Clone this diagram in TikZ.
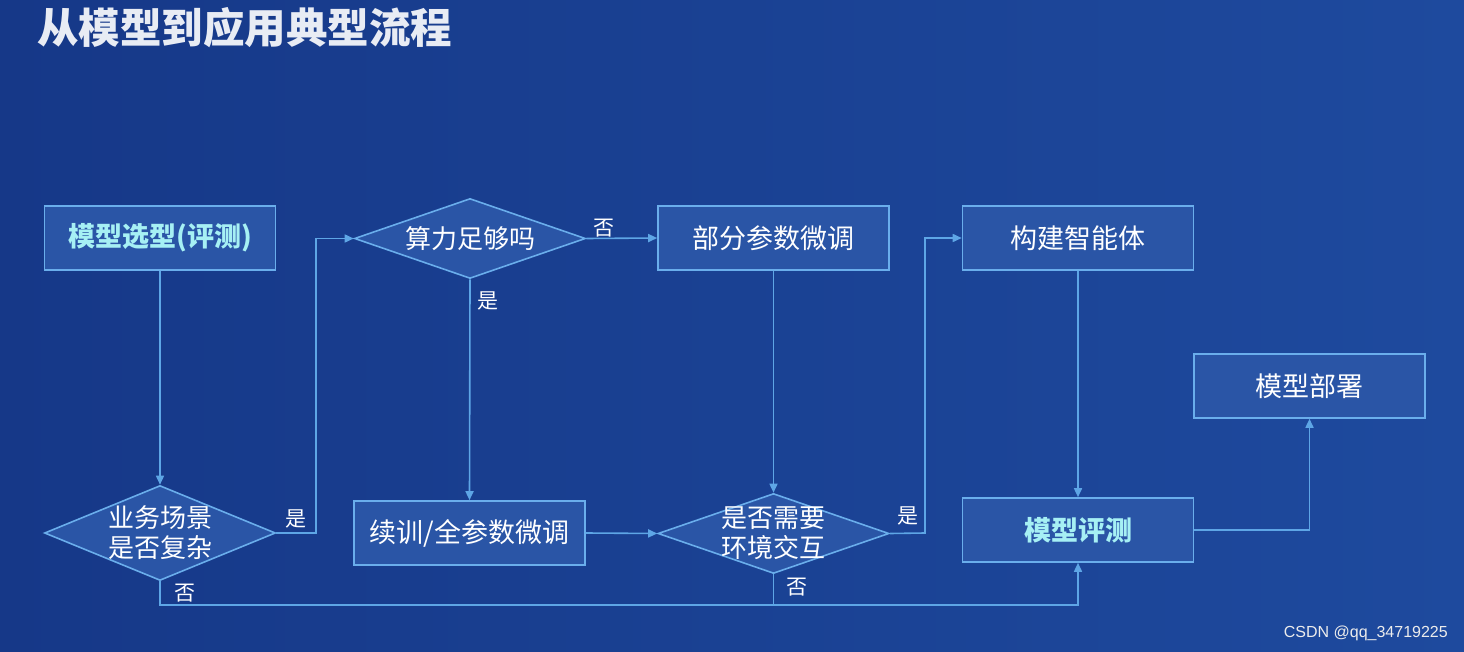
\documentclass[tikz,border=0pt]{standalone}
\usepackage{fontspec}
\setmainfont{Liberation Sans}
\newfontfamily\cjk{Noto Sans CJK SC}
\usetikzlibrary{shapes.geometric,arrows.meta}
\definecolor{bgL}{HTML}{163888}
\definecolor{bgR}{HTML}{1E4A9E}
\definecolor{boxfill}{HTML}{2A55A6}
\definecolor{boxline}{HTML}{6AAEEC}
\definecolor{conn}{HTML}{5EA6E6}
\definecolor{cyantext}{HTML}{A6F0F4}
\definecolor{titlecol}{HTML}{E8ECF4}
\tikzset{
  x=1pt, y=-1pt,
  procbox/.style={draw=boxline, line width=1.6pt, fill=boxfill, minimum width=231pt, minimum height=64pt, inner sep=0pt, text=white, font=\cjk\fontsize{27}{30}\selectfont},
  keybox/.style={procbox, text=cyantext, font=\cjk\bfseries\fontsize{27}{30}\selectfont},
  decision/.style={diamond, draw=boxline, line width=1.6pt, fill=boxfill, minimum width=231pt, minimum height=80pt, inner sep=0pt},
  dtext/.style={text=white, align=center, inner sep=0pt, font=\cjk\fontsize{26}{30}\selectfont},
  conn/.style={draw=conn, line width=1.6pt},
  arr/.style={conn, -{Triangle[length=9pt,width=8pt]}},
  lbl/.style={text=white, font=\cjk\fontsize{21}{24}\selectfont, inner sep=0pt}
}
\begin{document}
\begin{tikzpicture}
\useasboundingbox (0,0) rectangle (1464,652);
\shade[left color=bgL, right color=bgR] (0,0) rectangle (1464,652);
\node[anchor=west, text=titlecol, font=\cjk\bfseries\fontsize{41.5}{44}\selectfont, inner sep=0pt] (title) at (37,28) {从模型到应用典型流程};

\node[keybox] (sel) at (160,238) {模型选型(评测)};
\node[decision] (comp) at (470,238.5) {};
\node[dtext] (compt) at (comp.center) {算力足够吗};
\node[procbox] (part) at (773.5,238) {部分参数微调};
\node[procbox] (agent) at (1078,238) {构建智能体};
\node[procbox] (deploy) at (1309.5,386) {模型部署};
\node[decision, minimum height=95pt] (biz) at (160,533) {};
\node[dtext] (bizt) at (biz.center) {业务场景\\是否复杂};
\node[procbox] (full) at (469.5,533) {续训/全参数微调};
\node[decision] (env) at (773.5,533.5) {};
\node[dtext] (envt) at (env.center) {是否需要\\环境交互};
\node[keybox] (eval) at (1078,530) {模型评测};

\coordinate (bizR) at (316,533);
\coordinate (bizB) at (160,605);
\coordinate (envB) at (773.5,605);
\coordinate (evalB) at (1078,605);
\coordinate (envR) at (925,533);
\coordinate (evalR) at (1309.5,530);

\draw[arr] (sel.south) -- (biz.north);
\draw[arr] (biz.east) -- (bizR) |- (comp.west);
\draw[arr] (comp.east) -- (part.west);
\draw[arr] (comp.south) -- (full.north);
\draw[arr] (part.south) -- (env.north);
\draw[arr] (full.east) -- (env.west);
\draw[arr] (env.east) -- (envR) |- (agent.west);
\draw[arr] (agent.south) -- (eval.north);
\draw[arr] (biz.south) -- (bizB) -- (evalB) -- (eval.south);
\draw[conn] (env.south) -- (envB);
\draw[arr] (eval.east) -- (evalR) -- (deploy.south);

\node[lbl] (l1) at (296,519) {是};
\node[lbl] (l2) at (604,228) {否};
\node[lbl] (l3) at (488,301) {是};
\node[lbl] (l4) at (908,516) {是};
\node[lbl] (l5) at (185,593) {否};
\node[lbl] (l6) at (797,587) {否};

\node[anchor=east, text=white!85!gray, font=\fontsize{16}{18}\selectfont, inner sep=0pt] (wm) at (1448,633) {CSDN @qq\_34719225};
\end{tikzpicture}
\end{document}
